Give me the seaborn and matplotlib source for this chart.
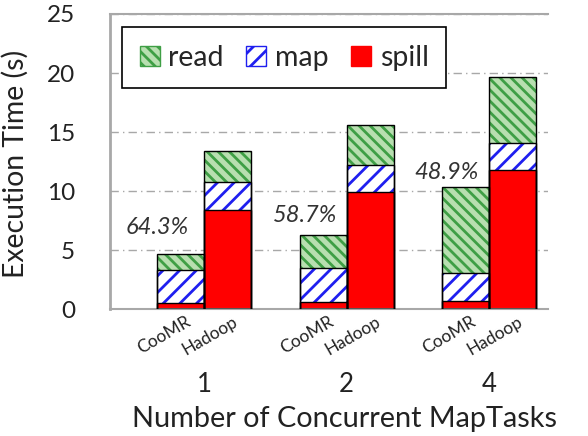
import matplotlib
matplotlib.use("Agg")
import matplotlib.pyplot as plt
import matplotlib.transforms as mtrans
from matplotlib.patches import Patch, Rectangle
import seaborn as sns
import pandas as pd

# ---- data ----
groups = ["1", "2", "4"]
systems = ["CooMR", "Hadoop"]
coomr_spill = [0.55, 0.60, 0.65]
coomr_map = [2.75, 2.85, 2.40]
coomr_read = [1.40, 2.85, 7.25]
hadoop_spill = [8.40, 9.90, 11.80]
hadoop_map = [2.40, 2.30, 2.30]
hadoop_read = [2.60, 3.40, 5.60]
reductions = ["64.3%", "58.7%", "48.9%"]
xlabel = "Number of Concurrent MapTasks"
ylabel = "Execution Time (s)"
yticks = [0, 5, 10, 15, 20, 25]

rows = []
for i, g in enumerate(groups):
    for s, sp, mp, rd in (("CooMR", coomr_spill, coomr_map, coomr_read),
                          ("Hadoop", hadoop_spill, hadoop_map, hadoop_read)):
        rows.append({"group": g, "system": s,
                     "spill_top": sp[i],
                     "map_top": sp[i] + mp[i],
                     "read_top": sp[i] + mp[i] + rd[i]})
df = pd.DataFrame(rows)

sns.set_theme(style="white")
FONT = ["Lato", "DejaVu Sans"]
plt.rcParams["font.family"] = FONT
plt.rcParams["hatch.linewidth"] = 2.0

fig = plt.figure(figsize=(5.88, 4.36), dpi=100)
ax = fig.add_axes([110 / 588, 1 - 309 / 436, 438 / 588, 295 / 436])

layers = [
    ("read_top", "#b8dfb0", "#3f9f45", "\\\\\\"),
    ("map_top", "#ffffff", "#1f1fef", "//"),
    ("spill_top", "#ff0000", "#ff0000", None),
]
bar_patches = []
for col, face, hcol, hatch in layers:
    n0 = len(ax.patches)
    sns.barplot(data=df, x="group", y=col, hue="system", order=groups,
                hue_order=systems, palette=[face, face], width=0.66,
                dodge=True, gap=0, legend=False, edgecolor=hcol,
                linewidth=0, saturation=1, errorbar=None, ax=ax)
    new = ax.patches[n0:]
    for p in new:
        if hatch:
            p.set_hatch(hatch)
        p.set_zorder(2)
    bar_patches.extend(new)

for p in bar_patches:
    ax.add_patch(Rectangle(p.get_xy(), p.get_width(), p.get_height(),
                           fill=False, edgecolor="black", linewidth=1.0,
                           zorder=3))

ax.set_xlim(-0.66, 2.414)
ax.set_ylim(0, 25)
ax.set_yticks(yticks)
ax.yaxis.grid(True, linestyle=(0, (6, 3, 1, 3)), color="#a8a8a8", linewidth=1.0)
ax.set_axisbelow(True)

for side in ("left", "bottom", "top"):
    ax.spines[side].set_visible(True)
    ax.spines[side].set_color("#a8a8a8")
ax.spines["left"].set_linewidth(2.0)
ax.spines["bottom"].set_linewidth(1.5)
ax.spines["top"].set_linewidth(1.5)
ax.spines["right"].set_visible(False)

ax.tick_params(axis="y", which="major", direction="out", length=8, width=1.5,
               color="#a8a8a8", pad=17, labelsize=17.5, labelcolor="#222222")

# system labels under each bar (minor ticks), group labels as major ticks
first_layer = bar_patches[:len(df)]
centers = sorted(p.get_x() + p.get_width() / 2 for p in first_layer)
sys_labels = [systems[k % 2] for k in range(len(centers))]
ax.set_xticks(centers, minor=True)
ax.set_xticklabels(sys_labels, minor=True, rotation=30, ha="right",
                   rotation_mode="anchor", fontsize=12.5, color="#222222")
ax.tick_params(axis="x", which="minor", length=0, pad=3)
off = mtrans.ScaledTranslation(5 / 100, 0, fig.dpi_scale_trans)
for t in ax.get_xticklabels(minor=True):
    t.set_transform(t.get_transform() + off)

ax.set_xticks(range(len(groups)))
ax.set_xticklabels(groups, fontsize=18.5, color="#222222")
ax.tick_params(axis="x", which="major", length=0, pad=45)

ax.set_xlabel(xlabel, fontsize=20.8, color="#222222")
ax.xaxis.set_label_coords((345 - 110) / 438, (309 - 419) / 295)
ax.xaxis.label.set_va("center")
ax.set_ylabel(ylabel, fontsize=20.4, color="#222222")
ax.yaxis.set_label_coords((15 - 110) / 438, (309 - 164) / 295)
ax.yaxis.label.set_va("center")

# reduction labels above CooMR bars
totals = [coomr_spill[i] + coomr_map[i] + coomr_read[i] for i in range(len(groups))]
pct_offsets = [(-16.5, 18.5), (-12.6, 13.7), (-14.0, 10.6)]
for i, lab in enumerate(reductions):
    ax.annotate(lab, xy=(centers[2 * i], totals[i]), xytext=pct_offsets[i],
                textcoords="offset points", ha="center", va="center",
                fontsize=17, style="italic", color="#333333", zorder=5)

handles = [Patch(facecolor=face, edgecolor=hcol, hatch=hatch, label=lab)
           for (col, face, hcol, hatch), lab in zip(layers, ["read", "map", "spill"])]
leg = ax.legend(handles=handles, loc="upper left",
                bbox_to_anchor=((122 - 110) / 438, (309 - 27) / 295),
                ncol=3, fontsize=20.5, frameon=True, fancybox=False,
                framealpha=1, edgecolor="black", handlelength=0.7,
                handleheight=0.7, handletextpad=0.3, columnspacing=0.8,
                borderpad=0.62, borderaxespad=0)
leg.get_frame().set_linewidth(1.2)

fig.savefig("out.png", dpi=100)
